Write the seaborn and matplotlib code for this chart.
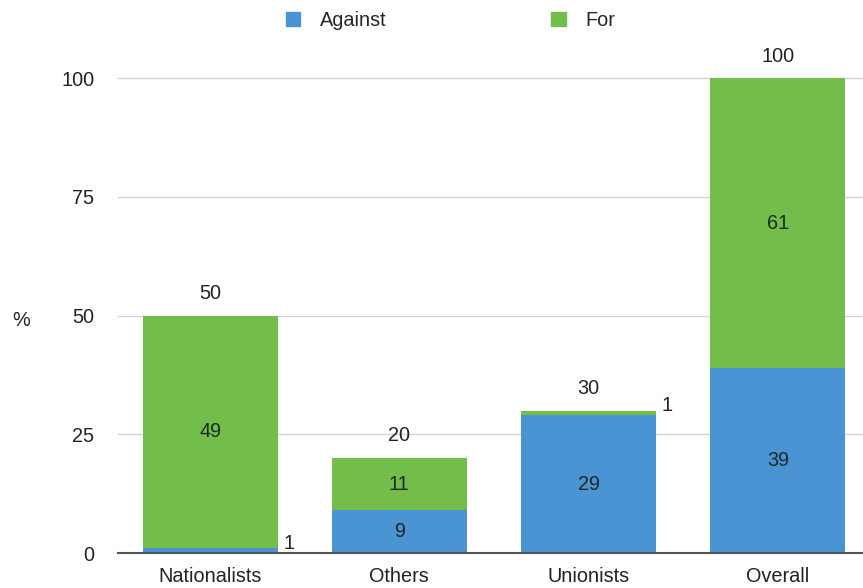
import matplotlib
matplotlib.use("Agg")
import matplotlib.pyplot as plt
import seaborn as sns
import pandas as pd
from matplotlib.patches import Patch

# data
groups = ["Nationalists", "Others", "Unionists", "Overall"]
against = [1, 9, 29, 39]
for_vals = [49, 11, 1, 61]
totals = [a + f for a, f in zip(against, for_vals)]

blue = "#4a94d4"
green = "#73bd4b"

sns.set_style("white")
plt.rcParams["font.family"] = ["Liberation Sans", "DejaVu Sans"]

df = pd.DataFrame({"group": groups, "against": against, "for": for_vals, "total": totals})

fig = plt.figure(figsize=(8.63, 5.88), dpi=100)
ax = fig.add_axes([0.1367, 0.0595, 0.8633, 0.872])

# green full bar first, blue "against" part on top of it
sns.barplot(data=df, x="group", y="total", color=green, saturation=1, width=0.714,
            linewidth=0, ax=ax, zorder=2)
sns.barplot(data=df, x="group", y="against", color=blue, saturation=1, width=0.714,
            linewidth=0, ax=ax, zorder=3)

fs = 14.3
ax.set_ylim(0, 108)
ax.set_xlim(-0.487, 3.45)
ax.set_yticks([0, 25, 50, 75, 100])
ax.yaxis.grid(True, color="#d4d4d4", linewidth=1)
ax.set_axisbelow(True)
for s in ["top", "right", "left"]:
    ax.spines[s].set_visible(False)
ax.spines["bottom"].set_color("#555555")
ax.spines["bottom"].set_linewidth(1.5)
ax.spines["bottom"].set_zorder(4)
ax.tick_params(axis="y", length=0, pad=17, labelsize=fs, labelcolor="#222222")
ax.tick_params(axis="x", length=0, pad=10, labelsize=fs, labelcolor="#222222")
ax.set_xlabel("")
ax.set_ylabel("%", rotation=0, fontsize=fs, color="#222222", va="center")
ax.yaxis.set_label_coords(-0.13, 0.454)

half_w = 0.714 / 2
for i in range(len(groups)):
    a, f, t = against[i], for_vals[i], totals[i]
    for val, base in [(a, 0), (f, a)]:
        if val >= 5:
            ax.text(i, base + val / 2, str(val), ha="center", va="center",
                    fontsize=fs, color="#1e2a1e", zorder=5)
        else:
            ax.text(i + half_w + 0.03, base + val / 2 + 1.5, str(val), ha="left",
                    va="center", fontsize=fs, color="#222222", zorder=5)
    ax.annotate(str(t), (i, t), xytext=(0, 16), textcoords="offset points",
                ha="center", va="center", fontsize=fs, color="#222222")

handles = [Patch(color=blue, label="Against"), Patch(color=green, label="For")]
fig.legend(handles=handles, loc="upper center", bbox_to_anchor=(0.522, 1.012), ncol=2,
           frameon=False, fontsize=fs, handlelength=0.72, handleheight=0.72,
           columnspacing=8.3, handletextpad=1.0)

fig.savefig("out.png", dpi=100)
